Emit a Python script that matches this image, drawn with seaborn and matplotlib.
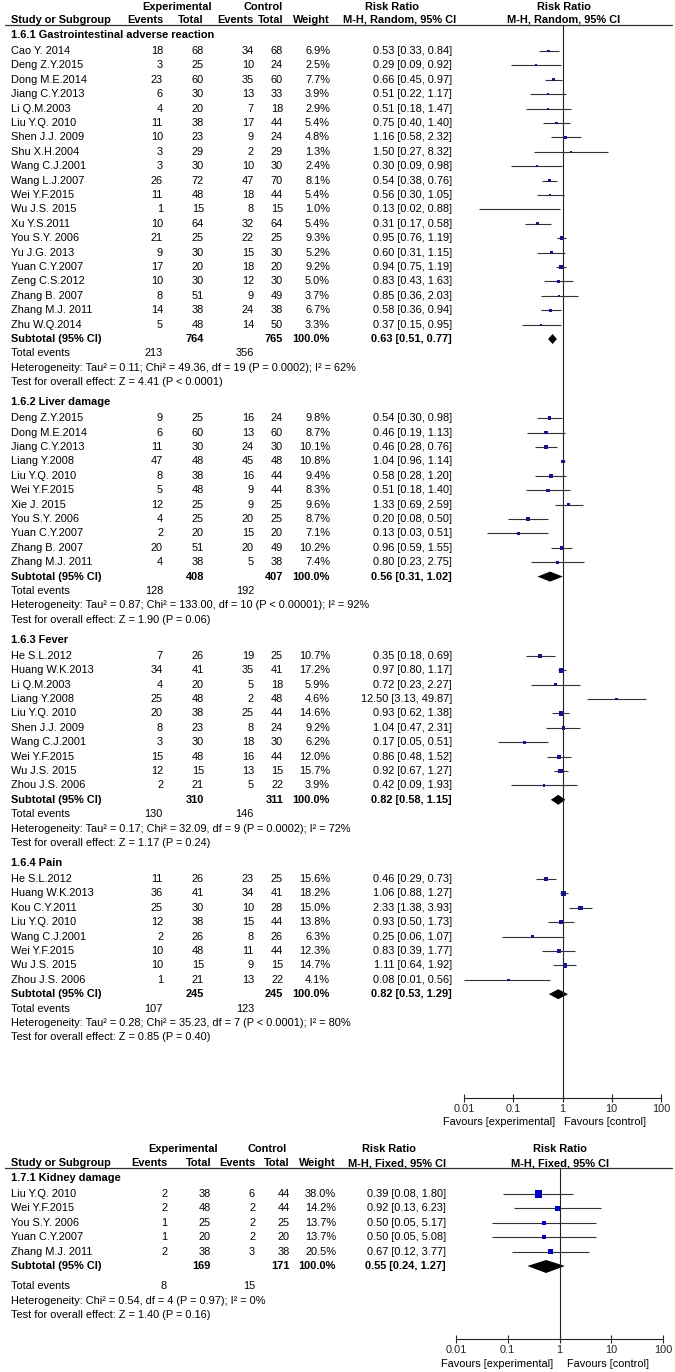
import matplotlib
matplotlib.use("Agg")
import numpy as np
import pandas as pd
import matplotlib.pyplot as plt
import seaborn as sns

# ---- data: (study, exp events, exp total, ctl events, ctl total, weight %, RR, lower, upper)
GI_STUDIES = [
    ("Cao Y. 2014", 18, 68, 34, 68, 6.9, 0.53, 0.33, 0.84),
    ("Deng Z.Y.2015", 3, 25, 10, 24, 2.5, 0.29, 0.09, 0.92),
    ("Dong M.E.2014", 23, 60, 35, 60, 7.7, 0.66, 0.45, 0.97),
    ("Jiang C.Y.2013", 6, 30, 13, 33, 3.9, 0.51, 0.22, 1.17),
    ("Li Q.M.2003", 4, 20, 7, 18, 2.9, 0.51, 0.18, 1.47),
    ("Liu Y.Q. 2010", 11, 38, 17, 44, 5.4, 0.75, 0.40, 1.40),
    ("Shen J.J. 2009", 10, 23, 9, 24, 4.8, 1.16, 0.58, 2.32),
    ("Shu X.H.2004", 3, 29, 2, 29, 1.3, 1.50, 0.27, 8.32),
    ("Wang C.J.2001", 3, 30, 10, 30, 2.4, 0.30, 0.09, 0.98),
    ("Wang L.J.2007", 26, 72, 47, 70, 8.1, 0.54, 0.38, 0.76),
    ("Wei Y.F.2015", 11, 48, 18, 44, 5.4, 0.56, 0.30, 1.05),
    ("Wu J.S. 2015", 1, 15, 8, 15, 1.0, 0.13, 0.02, 0.88),
    ("Xu Y.S.2011", 10, 64, 32, 64, 5.4, 0.31, 0.17, 0.58),
    ("You S.Y. 2006", 21, 25, 22, 25, 9.3, 0.95, 0.76, 1.19),
    ("Yu J.G. 2013", 9, 30, 15, 30, 5.2, 0.60, 0.31, 1.15),
    ("Yuan C.Y.2007", 17, 20, 18, 20, 9.2, 0.94, 0.75, 1.19),
    ("Zeng C.S.2012", 10, 30, 12, 30, 5.0, 0.83, 0.43, 1.63),
    ("Zhang B. 2007", 8, 51, 9, 49, 3.7, 0.85, 0.36, 2.03),
    ("Zhang M.J. 2011", 14, 38, 24, 38, 6.7, 0.58, 0.36, 0.94),
    ("Zhu W.Q.2014", 5, 48, 14, 50, 3.3, 0.37, 0.15, 0.95),
]
GI_SUMMARY = (764, 765, 0.63, 0.51, 0.77)
GI_EVENTS = (213, 356)
GI_HET = "Heterogeneity: Tau² = 0.11; Chi² = 49.36, df = 19 (P = 0.0002); I² = 62%"
GI_TEST = "Test for overall effect: Z = 4.41 (P < 0.0001)"

LIVER_STUDIES = [
    ("Deng Z.Y.2015", 9, 25, 16, 24, 9.8, 0.54, 0.30, 0.98),
    ("Dong M.E.2014", 6, 60, 13, 60, 8.7, 0.46, 0.19, 1.13),
    ("Jiang C.Y.2013", 11, 30, 24, 30, 10.1, 0.46, 0.28, 0.76),
    ("Liang Y.2008", 47, 48, 45, 48, 10.8, 1.04, 0.96, 1.14),
    ("Liu Y.Q. 2010", 8, 38, 16, 44, 9.4, 0.58, 0.28, 1.20),
    ("Wei Y.F.2015", 5, 48, 9, 44, 8.3, 0.51, 0.18, 1.40),
    ("Xie J. 2015", 12, 25, 9, 25, 9.6, 1.33, 0.69, 2.59),
    ("You S.Y. 2006", 4, 25, 20, 25, 8.7, 0.20, 0.08, 0.50),
    ("Yuan C.Y.2007", 2, 20, 15, 20, 7.1, 0.13, 0.03, 0.51),
    ("Zhang B. 2007", 20, 51, 20, 49, 10.2, 0.96, 0.59, 1.55),
    ("Zhang M.J. 2011", 4, 38, 5, 38, 7.4, 0.80, 0.23, 2.75),
]
LIVER_SUMMARY = (408, 407, 0.56, 0.31, 1.02)
LIVER_EVENTS = (128, 192)
LIVER_HET = "Heterogeneity: Tau² = 0.87; Chi² = 133.00, df = 10 (P < 0.00001); I² = 92%"
LIVER_TEST = "Test for overall effect: Z = 1.90 (P = 0.06)"

FEVER_STUDIES = [
    ("He S.L.2012", 7, 26, 19, 25, 10.7, 0.35, 0.18, 0.69),
    ("Huang W.K.2013", 34, 41, 35, 41, 17.2, 0.97, 0.80, 1.17),
    ("Li Q.M.2003", 4, 20, 5, 18, 5.9, 0.72, 0.23, 2.27),
    ("Liang Y.2008", 25, 48, 2, 48, 4.6, 12.50, 3.13, 49.87),
    ("Liu Y.Q. 2010", 20, 38, 25, 44, 14.6, 0.93, 0.62, 1.38),
    ("Shen J.J. 2009", 8, 23, 8, 24, 9.2, 1.04, 0.47, 2.31),
    ("Wang C.J.2001", 3, 30, 18, 30, 6.2, 0.17, 0.05, 0.51),
    ("Wei Y.F.2015", 15, 48, 16, 44, 12.0, 0.86, 0.48, 1.52),
    ("Wu J.S. 2015", 12, 15, 13, 15, 15.7, 0.92, 0.67, 1.27),
    ("Zhou J.S. 2006", 2, 21, 5, 22, 3.9, 0.42, 0.09, 1.93),
]
FEVER_SUMMARY = (310, 311, 0.82, 0.58, 1.15)
FEVER_EVENTS = (130, 146)
FEVER_HET = "Heterogeneity: Tau² = 0.17; Chi² = 32.09, df = 9 (P = 0.0002); I² = 72%"
FEVER_TEST = "Test for overall effect: Z = 1.17 (P = 0.24)"

PAIN_STUDIES = [
    ("He S.L.2012", 11, 26, 23, 25, 15.6, 0.46, 0.29, 0.73),
    ("Huang W.K.2013", 36, 41, 34, 41, 18.2, 1.06, 0.88, 1.27),
    ("Kou C.Y.2011", 25, 30, 10, 28, 15.0, 2.33, 1.38, 3.93),
    ("Liu Y.Q. 2010", 12, 38, 15, 44, 13.8, 0.93, 0.50, 1.73),
    ("Wang C.J.2001", 2, 26, 8, 26, 6.3, 0.25, 0.06, 1.07),
    ("Wei Y.F.2015", 10, 48, 11, 44, 12.3, 0.83, 0.39, 1.77),
    ("Wu J.S. 2015", 10, 15, 9, 15, 14.7, 1.11, 0.64, 1.92),
    ("Zhou J.S. 2006", 1, 21, 13, 22, 4.1, 0.08, 0.01, 0.56),
]
PAIN_SUMMARY = (245, 245, 0.82, 0.53, 1.29)
PAIN_EVENTS = (107, 123)
PAIN_HET = "Heterogeneity: Tau² = 0.28; Chi² = 35.23, df = 7 (P < 0.0001); I² = 80%"
PAIN_TEST = "Test for overall effect: Z = 0.85 (P = 0.40)"

KIDNEY_STUDIES = [
    ("Liu Y.Q. 2010", 2, 38, 6, 44, 38.0, 0.39, 0.08, 1.80),
    ("Wei Y.F.2015", 2, 48, 2, 44, 14.2, 0.92, 0.13, 6.23),
    ("You S.Y. 2006", 1, 25, 2, 25, 13.7, 0.50, 0.05, 5.17),
    ("Yuan C.Y.2007", 1, 20, 2, 20, 13.7, 0.50, 0.05, 5.08),
    ("Zhang M.J. 2011", 2, 38, 3, 38, 20.5, 0.67, 0.12, 3.77),
]
KIDNEY_SUMMARY = (169, 171, 0.55, 0.24, 1.27)
KIDNEY_EVENTS = (8, 15)
KIDNEY_HET = "Heterogeneity: Chi² = 0.54, df = 4 (P = 0.97); I² = 0%"
KIDNEY_TEST = "Test for overall effect: Z = 1.40 (P = 0.16)"

TICKS = [0.01, 0.1, 1, 10, 100]
TICK_LABELS = ["0.01", "0.1", "1", "10", "100"]

# ---- layout (pixel units, figure is 675 x 1372)
W, H = 675, 1372
STEP = 14.4
FS = 7.9
TOP_COLS = dict(name=11, ee=163, et=204, ce=254, ct=283, w=330, ci=452)
BOT_COLS = dict(name=11, ee=167, et=211, ce=255, ct=290, w=336, ci=446)

sns.set_theme(style="white")
plt.rcParams["font.family"] = ["Liberation Sans", "DejaVu Sans"]

fig = plt.figure(figsize=(W / 100, H / 100), dpi=100)
ax = fig.add_axes([0, 0, 1, 1])
ax.set_xlim(0, W)
ax.set_ylim(H, 0)
ax.axis("off")


def forest_axes(x0, x1, y0, y1):
    f = fig.add_axes([x0 / W, 1 - y1 / H, (x1 - x0) / W, (y1 - y0) / H])
    f.set_facecolor("none")
    f.set_xscale("log")
    f.set_xlim(0.01, 100)
    f.set_ylim(y1, y0)
    for s in ("top", "left", "right"):
        f.spines[s].set_visible(False)
    f.spines["bottom"].set_color("#222222")
    f.spines["bottom"].set_linewidth(0.8)
    f.set_xticks(TICKS)
    f.set_xticklabels(TICK_LABELS)
    f.minorticks_off()
    f.tick_params(axis="x", direction="inout", length=6, width=0.8, color="#222222",
                  labelsize=FS, pad=1, bottom=True)
    f.set_yticks([])
    f.axvline(1, color="#222222", lw=0.8)
    return f


def txt(x, y, s, ha="left", bold=False):
    ax.text(x, y, s, ha=ha, va="center", fontsize=FS,
            fontweight="bold" if bold else "normal", color="black")


def header(y1, y2, cols, method, rr_c, plot_c):
    b = dict(bold=True)
    txt((cols["ee"] + cols["et"]) / 2 - 6, y1, "Experimental", ha="center", **b)
    txt((cols["ce"] + cols["ct"]) / 2 - 5, y1, "Control", ha="center", **b)
    txt(rr_c - 8, y1, "Risk Ratio", ha="center", **b)
    txt(plot_c, y1, "Risk Ratio", ha="center", **b)
    txt(cols["name"], y2, "Study or Subgroup", **b)
    txt(cols["ee"], y2, "Events", ha="right", **b)
    txt(cols["et"], y2, "Total", ha="right", **b)
    txt(cols["ce"], y2, "Events", ha="right", **b)
    txt(cols["ct"], y2, "Total", ha="right", **b)
    txt(cols["w"], y2, "Weight", ha="right", **b)
    txt(rr_c, y2, method, ha="center", **b)
    txt(plot_c, y2, method, ha="center", **b)
    ax.plot([5, 672], [y2 + 5, y2 + 5], color="#333333", lw=0.9)


def section(f, y, title, studies, summary, events, het, test, cols, color,
            sub_gap=0.0, dh=(5, 5)):
    txt(cols["name"], y, title, bold=True)
    y += 16
    df = pd.DataFrame(studies, columns=["study", "ee", "et", "ce", "ct", "w", "rr", "lo", "hi"])
    df["y"] = y + STEP * np.arange(len(df))
    for r in df.itertuples():
        txt(cols["name"], r.y, r.study)
        txt(cols["ee"], r.y, f"{r.ee}", ha="right")
        txt(cols["et"], r.y, f"{r.et}", ha="right")
        txt(cols["ce"], r.y, f"{r.ce}", ha="right")
        txt(cols["ct"], r.y, f"{r.ct}", ha="right")
        txt(cols["w"], r.y, f"{r.w:.1f}%", ha="right")
        txt(cols["ci"], r.y, f"{r.rr:.2f} [{r.lo:.2f}, {r.hi:.2f}]", ha="right")
    f.hlines(df["y"], df["lo"], df["hi"], color="#333333", lw=0.8)
    side = np.maximum(1.14 * np.sqrt(df["w"]), 1.6) * 0.72
    sns.scatterplot(data=df, x="rr", y="y", marker="s", s=side ** 2, color=color,
                    linewidth=0, ax=f, legend=False, zorder=3)
    f.set_xlabel("")
    f.set_ylabel("")
    y = df["y"].iloc[-1] + STEP
    n_e, n_c, rr, lo, hi = summary
    txt(cols["name"], y, "Subtotal (95% CI)", bold=True)
    txt(cols["et"], y, f"{n_e}", ha="right", bold=True)
    txt(cols["ct"], y, f"{n_c}", ha="right", bold=True)
    txt(cols["w"], y, "100.0%", ha="right", bold=True)
    txt(cols["ci"], y, f"{rr:.2f} [{lo:.2f}, {hi:.2f}]", ha="right", bold=True)
    f.fill([lo, rr, hi, rr], [y, y - dh[0], y, y + dh[1]], color="black", lw=0)
    y += STEP + sub_gap
    txt(cols["name"], y, "Total events")
    txt(cols["ee"], y, f"{events[0]}", ha="right")
    txt(cols["ce"], y, f"{events[1]}", ha="right")
    y += STEP
    txt(cols["name"], y, het)
    y += STEP
    txt(cols["name"], y, test)
    return y


# ---- top panel: random effects
header(7, 20, TOP_COLS, "M-H, Random, 95% CI", 400, 564)
f1 = forest_axes(464, 661, 25, 1098)
y = 35
for title, st, sm, ev, he, te in [
    ("1.6.1 Gastrointestinal adverse reaction", GI_STUDIES, GI_SUMMARY, GI_EVENTS, GI_HET, GI_TEST),
    ("1.6.2 Liver damage", LIVER_STUDIES, LIVER_SUMMARY, LIVER_EVENTS, LIVER_HET, LIVER_TEST),
    ("1.6.3 Fever", FEVER_STUDIES, FEVER_SUMMARY, FEVER_EVENTS, FEVER_HET, FEVER_TEST),
    ("1.6.4 Pain", PAIN_STUDIES, PAIN_SUMMARY, PAIN_EVENTS, PAIN_HET, PAIN_TEST),
]:
    y = section(f1, y, title, st, sm, ev, he, te, TOP_COLS, "#14148c") + 20
txt(555, 1122, "Favours [experimental]", ha="right")
txt(564, 1122, "Favours [control]")

# ---- bottom panel: fixed effect
header(1149, 1163, BOT_COLS, "M-H, Fixed, 95% CI", 397, 560)
f2 = forest_axes(456, 663, 1168, 1339)
section(f2, 1178, "1.7.1 Kidney damage", KIDNEY_STUDIES, KIDNEY_SUMMARY, KIDNEY_EVENTS,
        KIDNEY_HET, KIDNEY_TEST, BOT_COLS, "#0000c0", sub_gap=6, dh=(6, 7))
txt(553, 1364, "Favours [experimental]", ha="right")
txt(567, 1364, "Favours [control]")

fig.savefig("out.png", dpi=100)
